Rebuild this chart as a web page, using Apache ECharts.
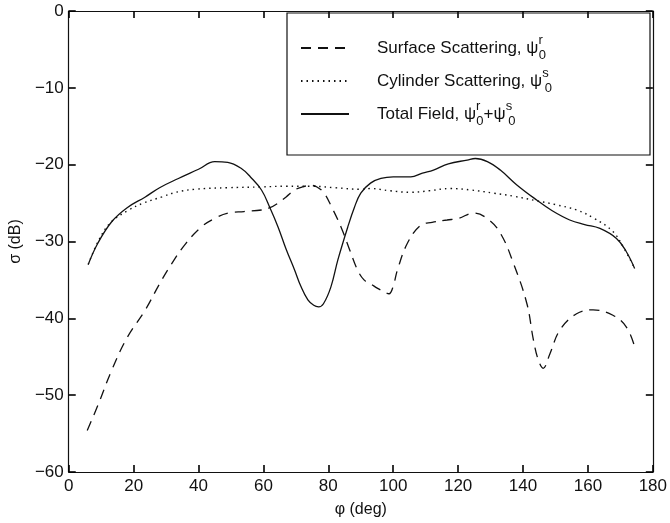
<!DOCTYPE html>
<html>
<head>
<meta charset="utf-8">
<script src="https://cdn.jsdelivr.net/npm/echarts@6/dist/echarts.min.js"></script>
<style>
  html, body { margin: 0; padding: 0; background: #fff; }
  #main { width: 670px; height: 523px; }
</style>
</head>
<body>
<div id="main"></div>
<script>
// values: phi (deg) and sigma (dB)
var surfPhi = [5.7, 9, 13.3, 18, 23.6, 28, 31.7, 36, 40.9, 45, 49.1, 54, 59.4, 62, 64.5, 67, 69.6, 72, 74.7, 76.5, 78.7, 81, 83.9, 86.5, 89, 91, 93, 95.2, 97, 98.7, 100, 101.3, 104.4, 108.4, 112, 116.6, 120, 124.8, 128.9, 133, 137.1, 141.2, 143.2, 144.7, 146.2, 148.3, 151.4, 156.5, 161.6, 167.7, 171.8, 174.4];
var surfDb = [-54.6, -51.3, -46.7, -42.5, -38.9, -35.5, -32.9, -30.3, -28.1, -27.0, -26.3, -26.1, -25.9, -25.6, -25.0, -24.2, -23.3, -22.9, -22.7, -22.9, -23.7, -25.5, -28.1, -31.0, -33.7, -35.0, -35.5, -36.1, -36.5, -36.8, -35.8, -33.7, -30.2, -27.9, -27.5, -27.2, -27.0, -26.3, -27.0, -28.9, -32.9, -38.1, -42.8, -45.4, -46.5, -44.6, -41.5, -39.4, -38.9, -39.6, -41.1, -43.7];

var cylPhi = [6, 9.3, 13, 18.5, 23, 28.7, 33, 38.9, 49, 59.4, 67, 74.7, 82, 90, 93, 99, 105.4, 111, 117.6, 124, 130.9, 137, 144.2, 150, 156.5, 162, 167.7, 171, 174.4];
var cylDb = [-33, -29.8, -27.5, -25.9, -25, -24.2, -23.6, -23.2, -23.0, -22.9, -22.8, -22.8, -23.0, -23.2, -23.1, -23.4, -23.6, -23.4, -23.1, -23.3, -23.7, -24.1, -24.7, -25.2, -25.9, -27.0, -28.7, -30.8, -33.5];

var totPhi = [6, 9, 13.3, 18, 23.6, 28, 33.8, 40, 45, 49, 53.2, 56, 59.4, 62, 64.5, 67, 69.6, 71.5, 73.7, 75.5, 77, 78.5, 80.8, 83, 86, 88, 90, 93, 96.2, 100, 105.4, 109, 112.4, 117, 122.8, 125.3, 129, 133, 138, 144.2, 149, 154.4, 159, 163.7, 168.8, 171.8, 174.4];
var totDb = [-33, -30.2, -27.4, -25.6, -24.2, -23, -21.8, -20.6, -19.6, -19.7, -20.5, -21.6, -23.3, -25.6, -28.1, -31, -33.7, -35.8, -37.6, -38.3, -38.5, -38.1, -35.9, -32.3, -28.1, -25.6, -23.7, -22.4, -21.8, -21.6, -21.6, -21.1, -20.7, -19.9, -19.4, -19.2, -19.6, -20.7, -22.6, -24.6, -26.0, -27.2, -27.8, -28.3, -29.6, -31.3, -33.5];

var names = ['Surface Scattering', 'Cylinder Scattering', 'Total Field'];

function pairs(xs, ys) {
  return xs.map(function (x, i) { return [x, ys[i]]; });
}

var font = "'Liberation Sans', Arial, sans-serif";
var ink = '#111';

var chart = echarts.init(document.getElementById('main'));

// labelled axes ignore inside:true, so their ticks get a negative length instead
function axisCommon(showLabel) {
  return {
    axisLine: { show: true, onZero: false, lineStyle: { color: ink, width: 1.2 } },
    axisTick: showLabel
      ? { show: true, inside: false, length: -7, lineStyle: { color: '#000', width: 1.6 } }
      : { show: true, inside: true, length: 7, lineStyle: { color: '#000', width: 1.6 } },
    splitLine: { show: false },
    axisLabel: {
      show: showLabel,
      color: ink,
      fontFamily: font,
      fontSize: 17,
      formatter: function (v) { return String(v).replace('-', '\u2212'); }
    }
  };
}

var xBottom = Object.assign({
  type: 'value', min: 0, max: 180, interval: 20, position: 'bottom',
  name: '\u03c6 (deg)', nameLocation: 'middle', nameGap: 30,
  nameTextStyle: { color: ink, fontFamily: font, fontSize: 16 }
}, axisCommon(true));
xBottom.axisLabel.margin = 6;

var xTop = Object.assign({ type: 'value', min: 0, max: 180, interval: 20, position: 'top' }, axisCommon(false));

var yLeft = Object.assign({
  type: 'value', min: -60, max: 0, interval: 10, position: 'left',
  name: '\u03c3 (dB)', nameLocation: 'middle', nameGap: 33, nameRotate: 90,
  nameTextStyle: { color: ink, fontFamily: font, fontSize: 16 }
}, axisCommon(true));
yLeft.axisLabel.margin = 5;

var yRight = Object.assign({ type: 'value', min: -60, max: 0, interval: 10, position: 'right' }, axisCommon(false));

var rich = {
  t: { fontFamily: font, fontSize: 17, color: ink, lineHeight: 28, padding: [0, 0, 0, 23] },
  u: { fontFamily: font, fontSize: 17, color: ink, lineHeight: 28 },
  sup: { fontFamily: font, fontSize: 13, color: ink, lineHeight: 13, verticalAlign: 'top' },
  sub: { fontFamily: font, fontSize: 13, color: ink, lineHeight: 13, verticalAlign: 'bottom', padding: [0, 0, 0, -4] }
};

var labels = {
  'Surface Scattering': '{t|Surface Scattering, \u03c8}{sup|r}{sub|0}',
  'Cylinder Scattering': '{t|Cylinder Scattering, \u03c8}{sup|s}{sub|0}',
  'Total Field': '{t|Total Field, \u03c8}{sup|r}{sub|0}{u|+\u03c8}{sup|s}{sub|0}'
};

var option = {
  animation: false,
  backgroundColor: '#fff',
  grid: { left: 67, right: 17, top: 11, bottom: 51 },
  xAxis: [xBottom, xTop],
  yAxis: [yLeft, yRight],
  legend: {
    orient: 'vertical',
    left: 295,
    top: 29,
    itemWidth: 48,
    itemHeight: 14,
    itemGap: 5,
    data: names,
    itemStyle: { opacity: 0 },
    formatter: function (n) { return labels[n]; },
    textStyle: { rich: rich }
  },
  graphic: [{
    type: 'rect',
    shape: { x: 287, y: 13, width: 363, height: 142 },
    style: { fill: 'none', stroke: ink, lineWidth: 1.2 },
    z: 1
  }],
  series: [
    {
      name: names[0], type: 'line', smooth: 0.4, symbol: 'none',
      lineStyle: { color: ink, width: 1.3, type: [10, 7] },
      data: pairs(surfPhi, surfDb)
    },
    {
      name: names[1], type: 'line', smooth: 0.4, symbol: 'none',
      lineStyle: { color: ink, width: 1.4, type: [1.5, 4] },
      data: pairs(cylPhi, cylDb)
    },
    {
      name: names[2], type: 'line', smooth: 0.4, symbol: 'none',
      lineStyle: { color: ink, width: 1.3 },
      data: pairs(totPhi, totDb)
    }
  ]
};

option && chart.setOption(option);
</script>
</body>
</html>
